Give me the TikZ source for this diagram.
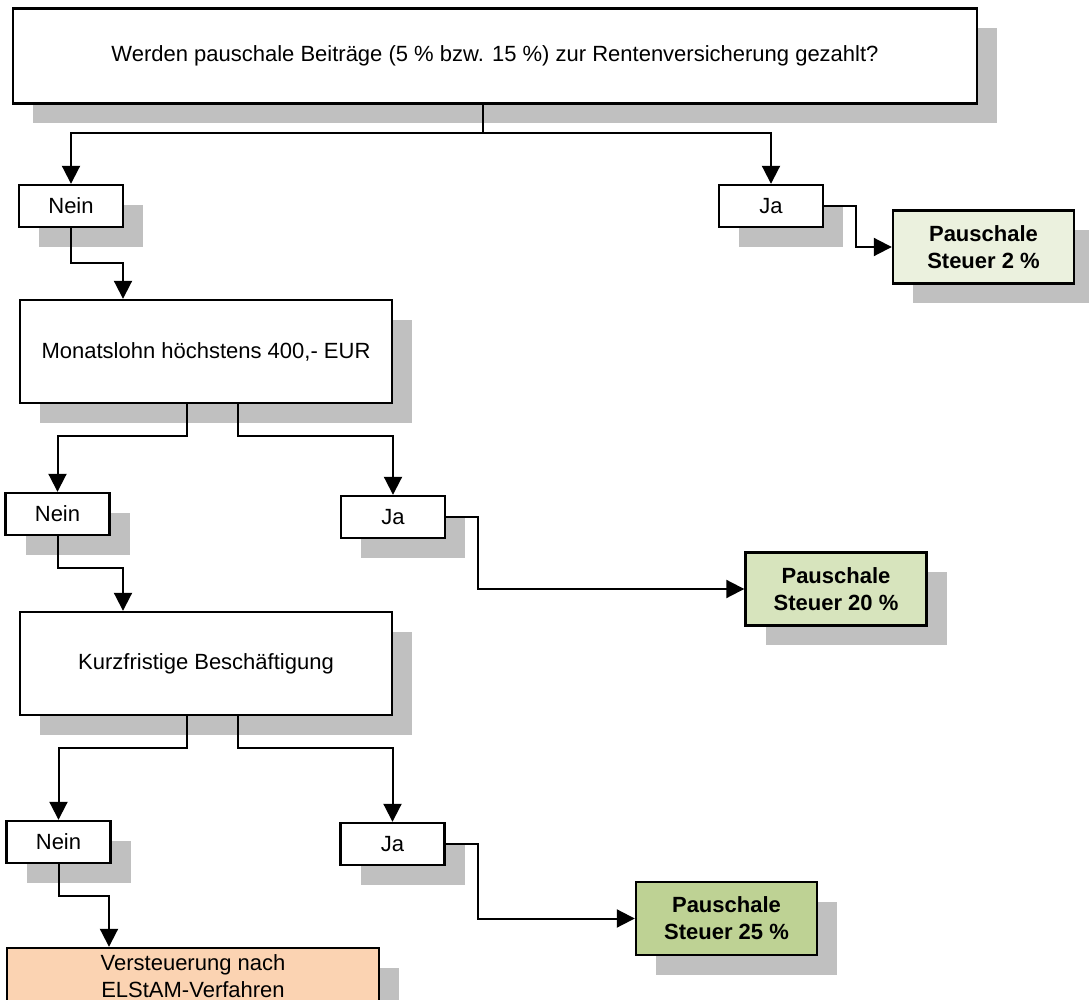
\documentclass[tikz,border=0pt]{standalone}
\usepackage{fontspec}
\setmainfont{Liberation Sans}
\usepackage{tikz}
\usetikzlibrary{positioning,calc,shadows,arrows.meta}
\usepackage{xcolor}
\definecolor{shadowgray}{RGB}{192,192,192}
\definecolor{lightolive}{RGB}{235,241,222}
\definecolor{midolive}{RGB}{215,228,189}
\definecolor{darkolive}{RGB}{190,210,148}
\definecolor{resultorange}{RGB}{251,211,178}

\begin{document}
\begin{tikzpicture}[
    x=0.5pt, y=-0.5pt,
    box/.style={rectangle, draw=black, fill=white, line width=1.2pt,
                align=center, inner sep=2pt,
                font=\fontsize{11}{13.5}\selectfont,
                drop shadow={shadow xshift=10pt, shadow yshift=-10pt,
                             fill=shadowgray, opacity=1}},
    frage/.style={box, minimum width=186pt, minimum height=51.5pt},
    answer/.style={box, minimum width=52pt, minimum height=21pt},
    steuer/.style={box, minimum width=90.5pt, minimum height=36.5pt,
                   font=\fontsize{11}{13.5}\selectfont\bfseries},
    arrow/.style={-{Triangle[length=9pt,width=9pt]}, line width=1pt},
]
\useasboundingbox (0,0) rectangle (1089,1000);

\node[box, minimum width=482pt, minimum height=47.5pt] (frage1) at (495,56)
    {Werden pauschale Beiträge (5 \% bzw. 15 \%) zur Rentenversicherung gezahlt?};
\node[answer] (nein1) at (71,206) {Nein};
\node[answer] (ja1) at (771,206) {Ja};
\node[steuer, fill=lightolive] (st2) at (983.5,247) {Pauschale\\Steuer 2 \%};

\node[frage] (frage2) at (206,351.5) {Monatslohn höchstens 400,- EUR};
\node[answer] (nein2) at (57.5,514) {Nein};
\node[answer] (ja2) at (393,517) {Ja};
\node[steuer, fill=midolive] (st20) at (836,589) {Pauschale\\Steuer 20 \%};

\node[frage] (frage3) at (206,663.5) {Kurzfristige Beschäftigung};
\node[answer] (nein3) at (58.5,842) {Nein};
\node[answer] (ja3) at (392.5,844) {Ja};
\node[steuer, fill=darkolive] (st25) at (726.5,918.5) {Pauschale\\Steuer 25 \%};

\node[box, fill=resultorange, minimum width=186pt, minimum height=28pt] (elstam) at (193,976)
    {Versteuerung nach\\ELStAM-Verfahren};

% Verzweigungen
\coordinate (split1) at (483,133);
\draw[line width=1pt] (split1 |- frage1.south) -- (split1);
\draw[arrow] (split1) -| (nein1.north);
\draw[arrow] (split1) -| (ja1.north);
\draw[arrow] (ja1.east) -- ++(32,0) |- (st2.west);
\draw[arrow] (nein1.south) -- ++(0,35) -| ($(frage2.north)+(-83,0)$);

\draw[arrow] ($(frage2.south)+(-19,0)$) -- ++(0,32) -| (nein2.north);
\draw[arrow] ($(frage2.south)+(32,0)$) -- ++(0,32) -| (ja2.north);
\draw[arrow] (ja2.east) -- ++(32,0) |- (st20.west);
\draw[arrow] (nein2.south) -- ++(0,32) -| ($(frage3.north)+(-83,0)$);

\draw[arrow] ($(frage3.south)+(-19,0)$) -- ++(0,32) -| (nein3.north);
\draw[arrow] ($(frage3.south)+(32,0)$) -- ++(0,32) -| (ja3.north);
\draw[arrow] (ja3.east) -- ++(32,0) |- (st25.west);
\draw[arrow] (nein3.south) -- ++(0,32) -| ($(elstam.north)+(-84,0)$);

\end{tikzpicture}
\end{document}
